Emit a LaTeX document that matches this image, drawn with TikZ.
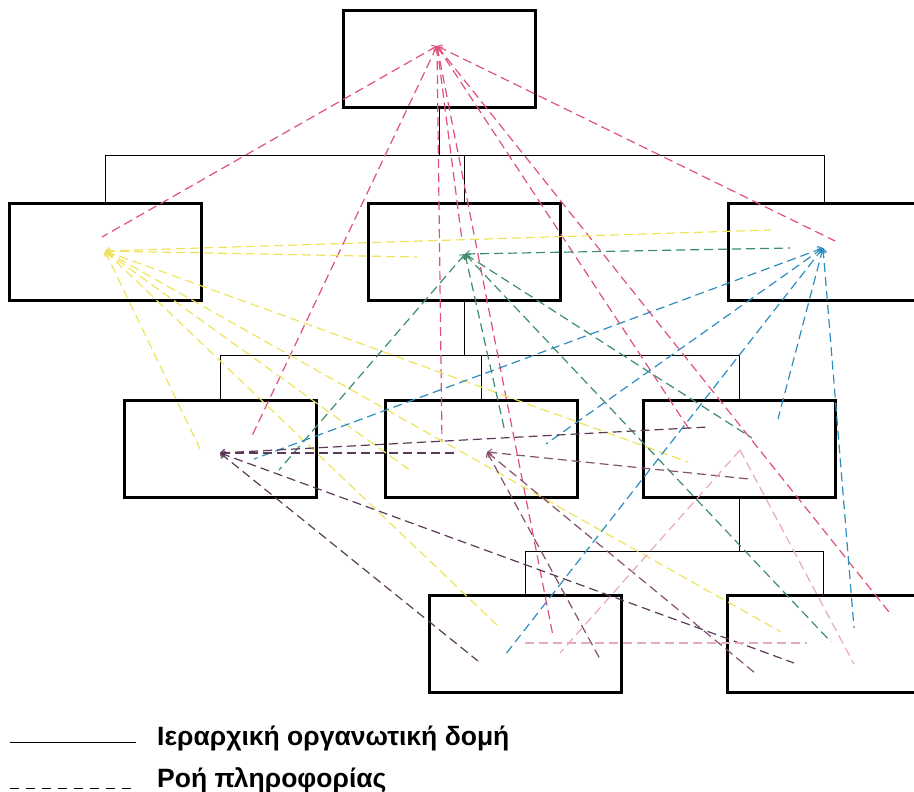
\documentclass[tikz,border=0pt]{standalone}
\usepackage{fontspec}
\setmainfont{Liberation Sans}
\usetikzlibrary{arrows.meta}

\definecolor{flowpink}{HTML}{E0507A}
\definecolor{flowyellow}{HTML}{EEE35C}
\definecolor{flowgreen}{HTML}{3E8C6C}
\definecolor{flowblue}{HTML}{2C8EBE}
\definecolor{flowdark}{HTML}{5A3A58}
\definecolor{flowmauve}{HTML}{84506E}
\definecolor{flowrose}{HTML}{E8A8C0}

\tikzset{
  unit/.style={draw,line width=3pt,minimum width=192pt,minimum height=97pt,inner sep=0pt},
  flow/.style={draw,dash pattern=on 9pt off 5pt,line width=1.2pt},
  tipped/.style={{Straight Barb[length=4pt,width=7pt,line width=0.9pt]}-},
  legendtext/.style={anchor=base west,inner sep=0pt,font=\bfseries\fontsize{26.5}{30}\selectfont}
}

\begin{document}
\begin{tikzpicture}[x=1pt,y=-1pt]
      \useasboundingbox (0,0) rectangle (914,792);

      \begin{scope}[every node/.style={unit}]
        \node (top) at (439.5,59.5)  {};
        \node (l2a) at (105,251.5)   {};
        \node (l2b) at (464.5,251.5) {};
        \node (l2c) at (824,251.5)   {};
        \node (l3a) at (220,448.5)   {};
        \node (l3b) at (481,448.5)   {};
        \node (l3c) at (739,448.5)   {};
        \node (l4a) at (525,643.5)   {};
        \node (l4b) at (823,643.5)   {};
      \end{scope}

      % hierarchy
      \begin{scope}[line width=1pt]
        \draw (top.south) -- ++(0,45.5);
        \draw (l2a.north) -- ++(0,-46.5) -| (l2c.north);
        \draw (l2b.north) -- ++(0,-46.5);
        \draw (l2b.south) -- ++(0,53.5);
        \draw (l3a.north) -- ++(0,-43.5) -| (l3c.north);
        \draw (l3b.north) -- ++(0,-43.5);
        \draw (l3c.south) -- ++(0,52.5);
        \draw (l4a.north) -- ++(0,-42.5) -| (l4b.north);
      \end{scope}

      % hubs
      \coordinate (hT) at (437,46);
      \coordinate (hY) at (105,251);
      \coordinate (hG) at (465,254);
      \coordinate (hB) at (823,248);
      \coordinate (hM) at (220,453);
      \coordinate (hN) at (487,452);
      \coordinate (hR) at (740,450);

      % loose ends
      \coordinate (t1) at (102,237);
      \coordinate (t2) at (251,438);
      \coordinate (t3) at (442,442);
      \coordinate (t4) at (462,240);
      \coordinate (t5) at (553,636);
      \coordinate (t6) at (691,432);
      \coordinate (t7) at (889,612);
      \coordinate (t8) at (835,241);
      \coordinate (y1) at (771,230);
      \coordinate (y2) at (417,257);
      \coordinate (y3) at (200,449);
      \coordinate (y4) at (498,626);
      \coordinate (y5) at (411,471);
      \coordinate (y6) at (781,632);
      \coordinate (y7) at (688,462);
      \coordinate (g1) at (790,248);
      \coordinate (g2) at (279,470);
      \coordinate (g3) at (505,432);
      \coordinate (g4) at (752,438);
      \coordinate (g5) at (831,642);
      \coordinate (b1) at (254,459);
      \coordinate (b2) at (546,444);
      \coordinate (b3) at (505,655);
      \coordinate (b4) at (778,419);
      \coordinate (b5) at (854,628);
      \coordinate (m1) at (708,427);
      \coordinate (m2) at (455,453);
      \coordinate (m3) at (478,661);
      \coordinate (m4) at (794,663);
      \coordinate (n1) at (749,479);
      \coordinate (n2) at (600,659);
      \coordinate (n3) at (755,673);
      \coordinate (r1) at (560,653);
      \coordinate (r2) at (854,664);
      \coordinate (r3) at (525,643);
      \coordinate (r4) at (807,643);

      % information flow
      \begin{scope}[every edge/.style={flow}]
        \foreach \e in {t1,t2,t3,t4,t5,t6,t7,t8}
          \path (hT) edge[tipped,flowpink] (\e);
        \foreach \e in {y1,y2,y3,y4,y5,y6,y7}
          \path (hY) edge[tipped,flowyellow] (\e);
        \foreach \e in {g1,g2,g3,g4,g5}
          \path (hG) edge[tipped,flowgreen] (\e);
        \foreach \e in {b1,b2,b3,b4,b5}
          \path (hB) edge[tipped,flowblue] (\e);
        \foreach \e in {m1,m2,m3,m4}
          \path (hM) edge[tipped,flowdark] (\e);
        \foreach \e in {n1,n2,n3}
          \path (hN) edge[tipped,flowmauve] (\e);
        \foreach \e in {r1,r2}
          \path (hR) edge[flowrose] (\e);
        \path (r3) edge[flowrose] (r4);
      \end{scope}

      % legend
      \coordinate (s1) at (10,742);
      \coordinate (s2) at (136,742);
      \coordinate (d1) at (10,788);
      \coordinate (d2) at (136,788);
      \draw[line width=1pt] (s1) -- (s2);
      \draw[line width=1pt,dash pattern=on 9pt off 7pt] (d1) -- (d2);
      \node[legendtext] (lab1) at (157,745) {Ιεραρχική οργανωτική δομή};
      \node[legendtext] (lab2) at (157,787) {Ροή πληροφορίας};

    \end{tikzpicture}
\end{document}
